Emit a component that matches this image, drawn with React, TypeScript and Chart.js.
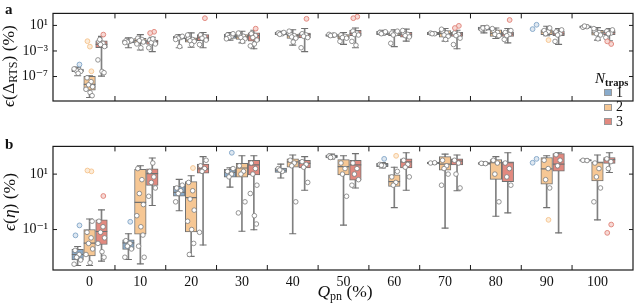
import React, { useEffect, useRef } from 'react';
import { Chart, registerables } from 'chart.js';

Chart.register(...registerables);

const categories = ['0', '10', '20', '30', '40', '50', '60', '70', '80', '90', '100'];
const trapLabels = ['1', '2', '3'];
const trapColors = ['#89abcb', '#f6c794', '#e2897f'];
const flierFills = ['#dfe8f1', '#fcecd9', '#f6d9d5'];
const edgeColor = '#707070';
const pointEdge = '#7a7a7a';

// Box statistics, log10 of the value in %: [whiskerLow, q1, median, q3, whiskerHigh]
// Panel a: ε(Δ_RTS)
const aBox1 = [
  [-6.87, -6.25, -6.05, -5.84, -5.53], [-2.49, -1.74, -1.53, -1.30, -0.95], [-2.49, -1.12, -0.89, -0.71, -0.44],
  [-1.30, -1.05, -0.71, -0.37, -0.10], [-0.51, -0.44, -0.27, -0.03, 0.08], [-0.82, -0.71, -0.51, -0.34, -0.27],
  [-0.51, -0.44, -0.20, 0.08, 0.24], [-0.51, -0.44, -0.27, -0.10, -0.03], [-0.17, 0.24, 0.52, 0.75, 0.93],
  null, [0.52, 0.59, 0.75, 0.93, 1.0],
];
const aBox2 = [
  [-10.28, -9.12, -8.24, -6.97, -6.90], [-2.84, -1.81, -1.36, -1.02, -0.44], [-2.42, -1.64, -1.30, -0.95, -0.17],
  [-1.74, -1.19, -0.78, -0.44, 0.08], [-2.08, -1.05, -0.61, -0.34, 0.31], [-1.97, -1.12, -0.78, -0.44, -0.10],
  [-2.32, -0.61, -0.34, -0.17, 0.31], [-1.46, -0.85, -0.27, 0.18, 0.52], [-1.05, -0.71, -0.27, 0.31, 0.59],
  [-0.61, -0.44, -0.03, 0.31, 0.86], [-1.30, -0.54, -0.17, 0.24, 0.65],
];
const aBox3 = [
  [-6.94, -2.49, -1.97, -1.40, -0.71], [-3.10, -1.97, -1.53, -1.30, -0.85], [-2.49, -1.40, -0.95, -0.44, -0.10],
  [-2.66, -1.46, -0.61, -0.17, 0.24], [-3.10, -0.95, -0.44, -0.20, 0.52], [-2.49, -0.61, -0.27, 0.24, 0.59],
  [-1.46, -0.85, -0.44, -0.10, 0.42], [-2.66, -0.71, -0.37, -0.10, 0.24], [-1.74, -0.71, -0.37, -0.03, 0.52],
  [-1.97, -0.61, -0.34, 0.08, 0.52], [-1.40, -0.44, -0.10, 0.18, 0.52],
];
const aPts1 = [
  [-5.9, -6.0, -6.1, -6.2, -5.8, -6.5], [-1.4, -1.5, -1.6, -1.3, -1.7], [-0.8, -0.9, -1.0, -0.7, -1.2, -2.3],
  [-0.5, -0.7, -0.9, -0.3, -1.1], [-0.2, -0.3, -0.4, -0.1], [-0.4, -0.5, -0.6, -0.5], [-0.1, -0.2, -0.3, 0.0],
  [-0.2, -0.3, -0.3], [0.4, 0.5, 0.6, 0.7], [], [0.7, 0.8, 0.9],
];
const aPts2 = [
  [-7.2, -7.8, -8.3, -8.6, -9.0, -9.5, -10.0], [-1.0, -1.2, -1.4, -1.6, -1.9, -2.5], [-1.0, -1.2, -1.4, -1.5, -0.5, -2.0],
  [-0.5, -0.7, -0.9, -1.1, -0.2, -1.5], [-0.4, -0.6, -0.8, -1.0, 0.1, -1.6], [-0.5, -0.7, -0.9, -1.0, -1.5],
  [-0.2, -0.3, -0.5, 0.1, -1.8], [0.1, -0.2, -0.5, -0.7, 0.4, -1.2], [0.2, -0.1, -0.4, -0.6, 0.5],
  [0.2, 0.0, -0.3, 0.6], [0.1, -0.1, -0.3, -0.5, 0.5, -1.1],
];
const aPts3 = [
  [-1.5, -1.8, -2.0, -2.3, -4.4, -6.2, -6.4, -1.2], [-1.3, -1.5, -1.7, -1.9, -2.5, -1.1], [-0.5, -0.8, -1.0, -1.3, -2.0],
  [-0.3, -0.6, -0.9, -1.3, -2.2, -1.9], [-0.3, -0.5, -0.7, -0.9, -2.5], [0.1, -0.2, -0.4, -0.5, -1.5, -2.1],
  [-0.2, -0.4, -0.6, -0.8, 0.2], [-0.2, -0.4, -0.6, -1.0, -2.0], [-0.1, -0.4, -0.6, 0.2, -1.2],
  [0.0, -0.3, -0.5, 0.3, -1.5], [0.1, -0.2, -0.3, 0.3, -0.9],
];
const aOut1 = [[-5.12], [], [], [], [], [], [], [], [], [1.1, 0.42], []];
const aOut2 = [[-6.18, -1.47, -2.32], [], [], [], [], [], [], [], [], [-1.3], []];
const aOut3 = [[-0.44], [0.0, -0.2], [2.13], [0.49], [2.03], [2.36, 2.13], [], [0.93, 0.59], [1.85], [], [-1.91, -1.5]];

// Panel b: ε(η)
const bBox1 = [
  [-2.30, -2.10, -1.90, -1.71, -1.61], [-2.08, -1.72, -1.48, -1.37, -1.15], [-0.32, 0.20, 0.34, 0.56, 0.81],
  [0.53, 0.89, 1.06, 1.17, 1.23], [0.86, 1.06, 1.14, 1.22, 1.36], [1.55, 1.58, 1.64, 1.69, 1.72],
  [1.22, 1.27, 1.33, 1.39, 1.42], [1.35, 1.37, 1.41, 1.43, 1.45], [1.33, 1.35, 1.39, 1.42, 1.44],
  null, [1.45, 1.47, 1.50, 1.52, 1.54],
];
const bBox2 = [
  [-2.30, -1.95, -1.49, -1.00, -0.62], [-2.24, -1.17, -0.02, 1.17, 1.30], [-1.97, -1.09, 0.15, 0.73, 0.94],
  [-1.06, 0.89, 1.22, 1.39, 1.66], [-1.15, 1.25, 1.44, 1.55, 1.69], [-0.84, 0.97, 1.27, 1.52, 1.66],
  [-0.21, 0.56, 0.73, 0.97, 1.25], [-0.95, 1.14, 1.36, 1.63, 1.72], [-0.52, 0.81, 1.41, 1.52, 1.63],
  [-0.21, 0.64, 1.19, 1.60, 1.66], [-0.65, 0.75, 1.41, 1.44, 1.69],
];
const bBox3 = [
  [-2.14, -1.54, -1.07, -0.65, -0.29], [-0.13, 0.59, 1.02, 1.19, 1.58], [-1.56, 1.03, 1.19, 1.36, 1.63],
  [-1.01, 0.97, 1.33, 1.50, 1.66], [0.42, 1.22, 1.39, 1.50, 1.63], [0.50, 0.78, 1.33, 1.50, 1.74],
  [0.42, 1.22, 1.44, 1.55, 1.77], [0.40, 1.33, 1.47, 1.55, 1.69], [-0.40, 0.73, 1.41, 1.44, 1.77],
  [-1.12, 1.11, 1.36, 1.74, 1.77], [1.06, 1.39, 1.52, 1.60, 1.77],
];
const bPts1 = [
  [-1.75, -1.9, -2.0, -2.1, -2.25], [-1.4, -1.5, -1.6, -1.7, -2.0], [0.5, 0.4, 0.3, 0.6, 0.0], [1.1, 1.0, 0.9, 1.2],
  [1.2, 1.1, 1.15], [1.65, 1.62, 1.6], [1.35, 1.3, 1.32], [1.4, 1.41], [1.39, 1.38], [], [1.5, 1.49],
];
const bPts2 = [
  [-1.1, -1.3, -1.5, -1.7, -1.9, -2.2, -0.7], [1.2, 0.8, 0.3, -0.1, -0.5, -0.9, -1.2, -1.6, -2.0],
  [0.7, 0.4, 0.1, -0.3, -0.7, -1.0, -1.5, -1.9], [1.3, 1.1, 1.0, 0.0, -0.4], [1.5, 1.4, 1.3, 0.0],
  [1.4, 1.2, 1.0, 0.2], [0.9, 0.7, 0.6, 1.1], [1.5, 1.3, 1.2, 1.0, 0.6], [1.5, 1.4, 1.0, 0.0],
  [1.5, 1.2, 0.8, 0.5], [1.4, 1.2, 0.9, 0.5, 0.0],
];
const bPts3 = [
  [-0.7, -0.9, -1.1, -1.3, -1.5, -1.8, -2.0], [1.1, 0.9, 0.7, 0.5, 0.2, 1.4], [1.3, 1.2, 1.1, 1.5, -1.1],
  [1.4, 1.2, 1.0, 0.6, 0.3, -0.5, -0.8], [1.45, 1.35, 1.25, 0.7], [1.4, 1.2, 1.0, 0.8, 0.6], [1.5, 1.35, 1.25, 0.9],
  [1.5, 1.4, 1.0, 0.5], [1.4, 1.2, 0.9, 0.6], [1.7, 1.5, 1.3], [1.55, 1.45, 1.2],
];
const bOut1 = [[-0.85, -1.21], [-0.72], [], [1.77], [], [], [1.55], [], [], [1.55, 1.41], []];
const bOut2 = [[1.1, 1.13], [], [1.22], [], [], [], [1.66], [], [], [-0.65], []];
const bOut3 = [[0.21], [], [], [], [], [], [], [], [], [], [-0.82, -1.12]];

const aTickExps = [-7, -3, 1];
const aTickLabels = ['10⁻⁷', '10⁻³', '10¹'];
const bTickExps = [-1, 1];
const bTickLabels = ['10⁻¹', '10¹'];
const aRange = [-10.83, 2.88];
const bRange = [-2.46, 2.0];

// presentation
const X_MIN = -0.72;
const X_MAX = 10.7;
const HUE_STEP = 0.235;
const JITTER = [-0.05, 0.03, -0.02, 0.06, -0.07, 0.01, 0.05, -0.035, 0.075, -0.06];
const SERIF = '"Liberation Serif", "DejaVu Serif", serif';

const p10 = (e: number) => Math.pow(10, e);

function buildDatasets(boxes: any[], pts: number[][][], outs: number[][][]) {
  const ds: any[] = [];
  for (let s = 0; s < 3; s++) {
    const off = (s - 1) * HUE_STEP;
    const color = trapColors[s];
    const whisk: any[] = [], box: any[] = [], med: any[] = [], caps: any[] = [], inner: any[] = [], fliers: any[] = [];
    boxes[s].forEach((b: number[] | null, i: number) => {
      const x = i + off;
      if (b) {
        whisk.push({ x, y: [p10(b[0]), p10(b[4])] });
        box.push({ x, y: [p10(b[1]), p10(b[3])] });
        med.push({ x, y: p10(b[2]) });
        caps.push({ x, y: p10(b[0]) }, { x, y: p10(b[4]) });
      }
      pts[s][i].forEach((v, k) => inner.push({ x: x + JITTER[k % JITTER.length], y: p10(v) }));
      outs[s][i].forEach((v, k) => fliers.push({ x: x + JITTER[(k + 3) % JITTER.length] * 0.6, y: p10(v) }));
    });
    ds.push({ type: 'bar', data: whisk, backgroundColor: '#808080', borderWidth: 0, grouped: false, barThickness: 1, order: 6 });
    ds.push({ type: 'bar', data: box, backgroundColor: color, borderColor: edgeColor, borderWidth: 1, borderSkipped: false, grouped: false, barThickness: 11.6, order: 5 });
    ds.push({ type: 'scatter', data: med, pointStyle: 'line', pointRadius: 5.8, pointBorderColor: edgeColor, pointBorderWidth: 1.2, order: 4 });
    ds.push({ type: 'scatter', data: caps, pointStyle: 'line', pointRadius: 3.5, pointBorderColor: edgeColor, pointBorderWidth: 1.1, order: 4 });
    ds.push({ type: 'scatter', data: inner, pointRadius: 2.3, pointBackgroundColor: '#ffffff', pointBorderColor: pointEdge, pointBorderWidth: 0.8, order: 2 });
    ds.push({ type: 'scatter', data: fliers, pointRadius: 2.4, pointBackgroundColor: flierFills[s], pointBorderColor: color, pointBorderWidth: 1, order: 1 });
  }
  return ds;
}

const framePlugin = {
  id: 'frame',
  afterDatasetsDraw(chart: any) {
    const { ctx, chartArea: a, scales } = chart;
    ctx.save();
    ctx.strokeStyle = '#1a1a1a';
    ctx.lineWidth = 1.2;
    ctx.strokeRect(a.left, a.top, a.right - a.left, a.bottom - a.top);
    ctx.lineWidth = 1;
    ctx.beginPath();
    for (let i = 0; i < categories.length - 1; i++) {
      const px = scales.x.getPixelForValue(i + 0.5);
      ctx.moveTo(px, a.top); ctx.lineTo(px, a.top + 5);
      ctx.moveTo(px, a.bottom); ctx.lineTo(px, a.bottom - 5);
    }
    scales.y.ticks.forEach((t: any) => {
      const py = scales.y.getPixelForValue(t.value);
      ctx.moveTo(a.left, py); ctx.lineTo(a.left + 4, py);
      ctx.moveTo(a.right, py); ctx.lineTo(a.right - 4, py);
    });
    ctx.stroke();
    ctx.restore();
  },
};

function makeConfig(boxes: any[], pts: number[][][], outs: number[][][], range: number[], tickExps: number[], tickLabels: string[], showX: boolean, padding: any) {
  const font = { family: SERIF, size: 14 };
  return {
    type: 'scatter',
    data: { datasets: buildDatasets(boxes, pts, outs) },
    options: {
      responsive: false,
      animation: false,
      events: [],
      layout: { padding },
      plugins: { legend: { display: false }, tooltip: { enabled: false } },
      scales: {
        x: {
          type: 'linear', min: X_MIN, max: X_MAX, offset: false, display: showX,
          grid: { display: false, drawTicks: false }, border: { display: false },
          afterBuildTicks: (s: any) => { s.ticks = categories.map((_, i) => ({ value: i })); },
          afterFit: (s: any) => { s.height = 34; },
          ticks: { callback: (_v: any, i: number) => categories[i], font, color: '#111', padding: 4, maxRotation: 0, autoSkip: false },
        },
        y: {
          type: 'logarithmic', min: p10(range[0]), max: p10(range[1]),
          grid: { display: false, drawTicks: false }, border: { display: false },
          afterBuildTicks: (s: any) => { s.ticks = tickExps.map((e) => ({ value: p10(e) })); },
          afterFit: (s: any) => { s.width = 53; },
          ticks: { callback: (_v: any, i: number) => tickLabels[i], font, color: '#111', padding: 5 },
        },
      },
    },
    plugins: [framePlugin],
  } as any;
}

const subStyle: React.CSSProperties = { fontSize: 12, position: 'relative', top: 3 };

export default function App() {
  const refA = useRef<HTMLCanvasElement>(null);
  const refB = useRef<HTMLCanvasElement>(null);
  useEffect(() => {
    const ca = new Chart(refA.current!, makeConfig([aBox1, aBox2, aBox3], [aPts1, aPts2, aPts3], [aOut1, aOut2, aOut3], aRange, aTickExps, aTickLabels, false, { top: 1, right: 2, bottom: 2, left: 0 }));
    const cb = new Chart(refB.current!, makeConfig([bBox1, bBox2, bBox3], [bPts1, bPts2, bPts3], [bOut1, bOut2, bOut3], bRange, bTickExps, bTickLabels, true, { top: 2, right: 2, bottom: 0, left: 0 }));
    return () => { ca.destroy(); cb.destroy(); };
  }, []);

  const legendRows = [92.5, 107, 121.5];
  return (
    <div style={{ position: 'absolute', left: 0, top: 0, width: 640, height: 304, fontFamily: SERIF, color: '#111', background: '#fff' }}>
      <canvas ref={refA} width={640} height={137} style={{ position: 'absolute', left: 0, top: 0 }} />
      <canvas ref={refB} width={640} height={171} style={{ position: 'absolute', left: 0, top: 133 }} />
      <div style={{ position: 'absolute', left: 5, top: 1, fontWeight: 'bold', fontSize: 15, lineHeight: '16px' }}>a</div>
      <div style={{ position: 'absolute', left: 5, top: 136, fontWeight: 'bold', fontSize: 15, lineHeight: '16px' }}>b</div>
      <div style={{ position: 'absolute', left: 9, top: 66, transform: 'translate(-50%,-50%) rotate(-90deg)', whiteSpace: 'nowrap', fontSize: 17.5, lineHeight: '20px' }}>
        <i>ϵ</i>(Δ<span style={subStyle}>RTS</span>) (%)
      </div>
      <div style={{ position: 'absolute', left: 9, top: 202, transform: 'translate(-50%,-50%) rotate(-90deg)', whiteSpace: 'nowrap', fontSize: 17.5, lineHeight: '20px' }}>
        <i>ϵ</i>(<i>η</i>) (%)
      </div>
      <div style={{ position: 'absolute', left: 345, top: 292, transform: 'translate(-50%,-50%)', whiteSpace: 'nowrap', fontSize: 17.5, lineHeight: '20px' }}>
        <i>Q</i><span style={subStyle}>pn</span> (%)
      </div>
      <div style={{ position: 'absolute', left: 595, top: 70, whiteSpace: 'nowrap', fontSize: 15, lineHeight: '16px' }}>
        <i>N</i><span style={{ fontSize: 10.5, position: 'relative', top: 3, fontWeight: 'bold' }}>traps</span>
      </div>
      {trapLabels.map((t, i) => (
        <React.Fragment key={t}>
          <div style={{ position: 'absolute', left: 604, top: legendRows[i] - 3.5, width: 8, height: 7, background: trapColors[i], boxSizing: 'border-box', border: '0.8px solid #999' }} />
          <div style={{ position: 'absolute', left: 616, top: legendRows[i] - 8, fontSize: 14, lineHeight: '16px' }}>{t}</div>
        </React.Fragment>
      ))}
    </div>
  );
}
